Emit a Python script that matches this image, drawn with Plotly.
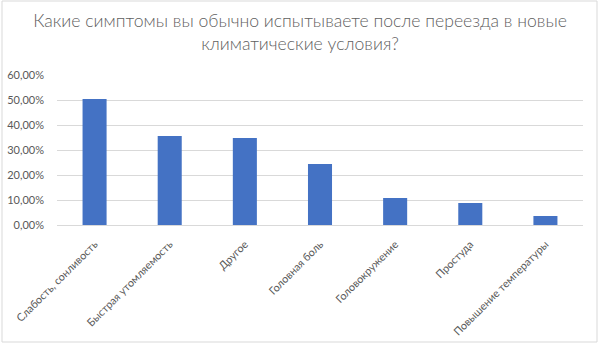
import plotly.graph_objects as go

categories = ["Слабость, сонливость", "Быстрая утомляемость", "Другое", "Головная боль",
              "Головокружение", "Простуда", "Повышение температуры"]
values = [0.504, 0.356, 0.348, 0.244, 0.108, 0.088, 0.036]
tick_vals = [0, 0.1, 0.2, 0.3, 0.4, 0.5, 0.6]
tick_text = ["0,00%", "10,00%", "20,00%", "30,00%", "40,00%", "50,00%", "60,00%"]
title_text = "Какие симптомы вы обычно испытываете после переезда в новые<br>климатические условия?"

FONT = "Lato, Liberation Sans, Arial, sans-serif"
GRAY = "#595959"

fig = go.Figure(go.Bar(
    x=categories, y=values, marker=dict(color="#4472C4", line=dict(width=0)),
    width=0.32,
))

L, R, T, B = 57, 17, 75, 119
W, H = 600, 344
pw, ph = W - L - R, H - T - B

fig.update_layout(
    width=W, height=H,
    margin=dict(l=L, r=R, t=T, b=B, autoexpand=False),
    paper_bgcolor="white", plot_bgcolor="white",
    font=dict(family=FONT, color=GRAY),
    showlegend=False,
    title=dict(text=title_text, x=0.5, xanchor="center", y=1 - 27 / H, yanchor="middle",
               font=dict(size=17.6, color="#5f5f5f", family=FONT, weight=300)),
    xaxis=dict(tickangle=-45, tickfont=dict(size=10.8, color=GRAY), showgrid=False,
               showline=False, ticks="", range=[-0.5, 6.5], automargin=False,
               ticklabelstandoff=10),
    yaxis=dict(range=[0, 0.6], tickvals=tick_vals, ticktext=tick_text,
               tickfont=dict(size=11, color=GRAY), showgrid=True, gridcolor="#D9D9D9",
               gridwidth=1, zeroline=True, zerolinecolor="#D9D9D9", zerolinewidth=1,
               showline=False, ticks="", automargin=False, ticklabelstandoff=12),
    shapes=[dict(type="rect", xref="paper", yref="paper",
                 x0=(2 - L) / pw, x1=(597 - L) / pw,
                 y0=(T + ph - 342) / ph, y1=(T + ph - 1) / ph,
                 line=dict(color="#D9D9D9", width=1), fillcolor="rgba(0,0,0,0)", layer="below")],
)

fig.write_html("out.html", config={"displayModeBar": False},
               post_script="document.body.style.margin='0';document.body.style.overflow='hidden';")
